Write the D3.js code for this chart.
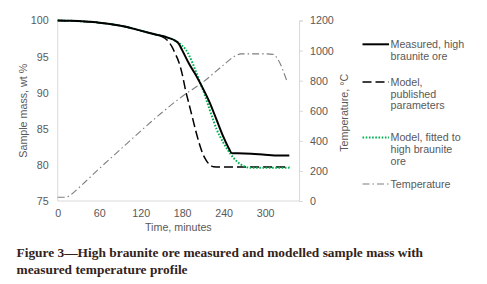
<!DOCTYPE html>
<html>
<head>
<meta charset="utf-8">
<script src="https://cdn.jsdelivr.net/npm/d3@7"></script>
<style>
  body { margin: 0; background: #fff; }
  svg text { font-family: "Liberation Sans", Arial, sans-serif; fill: #595959; }
</style>
</head>
<body>
<div class="figure"></div>
<script>
// time (min) -> sample mass (wt %) for each series, temperature on right axis

var measuredTime = [0, 20, 40, 60, 80, 100, 120, 140, 160, 170, 175, 180, 190, 200, 210, 220, 230, 240, 248, 252, 260, 280, 300, 320, 335]
var measuredMass = [100, 99.95, 99.85, 99.7, 99.45, 99.1, 98.6, 98.1, 97.6, 97.2, 96.8, 95.9, 94.0, 92.4, 90.6, 88.6, 86.2, 83.8, 82.2, 81.6, 81.6, 81.55, 81.4, 81.3, 81.3]

var publishedTime = [0, 20, 40, 60, 80, 100, 120, 140, 150, 160, 165, 170, 175, 180, 185, 190, 195, 200, 205, 210, 215, 220, 225, 240, 335]
var publishedMass = [100, 99.95, 99.85, 99.7, 99.45, 99.1, 98.6, 98.1, 97.8, 97.1, 96.4, 95.4, 94.3, 92.6, 90.3, 88.4, 86.5, 84.6, 82.9, 81.5, 80.6, 80.0, 79.75, 79.7, 79.7]

var fittedTime = [0, 20, 40, 60, 80, 100, 120, 140, 160, 170, 175, 180, 185, 190, 195, 200, 206, 213, 220, 225, 230, 235, 240, 245, 250, 255, 260, 270, 280, 335]
var fittedMass = [100, 99.95, 99.85, 99.7, 99.45, 99.1, 98.6, 98.1, 97.6, 97.2, 96.9, 96.5, 96.0, 95.2, 94.1, 92.9, 91.4, 89.6, 87.6, 86.2, 84.9, 83.9, 83.0, 82.2, 81.5, 80.9, 80.4, 79.8, 79.6, 79.6]

var tempTime = [0, 12, 20, 30, 45, 60, 90, 120, 150, 180, 210, 240, 255, 265, 300, 312, 318, 331]
var tempValue = [25, 25, 45, 85, 150, 215, 340, 465, 585, 695, 790, 905, 960, 978, 978, 975, 945, 804]

var xTicks = [0, 60, 120, 180, 240, 300]
var massTicks = [75, 80, 85, 90, 95, 100]
var tempTicks = [0, 200, 400, 600, 800, 1000, 1200]

var legendLabels = [
    ["Measured, high", "braunite ore"],
    ["Model,", "published", "parameters"],
    ["Model, fitted to", "high braunite", "ore"],
    ["Temperature"]
]

var captionLines = [
    "Figure 3\u2014High braunite ore measured and modelled sample mass with",
    "measured temperature profile"
]

var dim = { w: 487, h: 284 }
var plot = { left: 57.7, right: 299, top: 20.5, bottom: 201 }
var axisColor = "#d9d9d9"
var fontSize = 10.7

var svg = d3.select("div.figure")
    .append("svg")
    .attr("width", dim.w)
    .attr("height", dim.h)

var xScale = d3.scaleLinear().domain([0, 349]).range([plot.left, plot.right])
var yScale = d3.scaleLinear().domain([75, 100]).range([plot.bottom, plot.top])
var tScale = d3.scaleLinear().domain([0, 1200]).range([plot.bottom, plot.top])

// axes
var xAxis = svg.append("g")
    .attr("transform", "translate(0," + plot.bottom + ")")
    .call(d3.axisBottom(xScale).tickValues(xTicks).tickSize(0).tickPadding(8))
var yAxis = svg.append("g")
    .attr("transform", "translate(" + plot.left + ",0)")
    .call(d3.axisLeft(yScale).tickValues(massTicks).tickSize(0).tickPadding(9))
var tAxis = svg.append("g")
    .attr("transform", "translate(" + plot.right + ",0)")
    .call(d3.axisRight(tScale).tickValues(tempTicks).tickFormat(d3.format("d"))
        .tickSize(4).tickPadding(7).tickSizeOuter(4))

;[xAxis, yAxis, tAxis].forEach(function(a) {
    a.selectAll("path").attr("stroke", axisColor).attr("stroke-width", 1)
    a.selectAll("line").attr("stroke", axisColor)
    a.selectAll("text")
        .style("font-size", fontSize + "px")
        .style("font-family", "Liberation Sans, Arial, sans-serif")
        .attr("fill", "#595959")
})
yAxis.select("path").attr("d", "M0," + plot.top + "V" + plot.bottom)
xAxis.select("path").attr("d", "M" + plot.left + ",0H" + plot.right)

// axis titles
svg.append("text")
    .attr("x", (plot.left + plot.right) / 2)
    .attr("y", 230.5)
    .attr("text-anchor", "middle")
    .style("font-size", fontSize + "px")
    .text("Time, minutes")

svg.append("text")
    .attr("transform", "translate(26.5," + ((plot.top + plot.bottom) / 2) + ") rotate(-90)")
    .attr("text-anchor", "middle")
    .style("font-size", fontSize + "px")
    .text("Sample mass, wt %")

svg.append("text")
    .attr("transform", "translate(347.5," + ((plot.top + plot.bottom) / 2 + 2) + ") rotate(-90)")
    .attr("text-anchor", "middle")
    .style("font-size", fontSize + "px")
    .text("Temperature, \u00B0C")

// series
var series = [
    { t: tempTime, v: tempValue, scale: tScale, color: "#7f7f7f", width: 1.1, dash: "7,3,1.5,3" },
    { t: publishedTime, v: publishedMass, scale: yScale, color: "#000000", width: 1.5, dash: "9,4" },
    { t: fittedTime, v: fittedMass, scale: yScale, color: "#00b050", width: 2, dash: "1.6,1.6" },
    { t: measuredTime, v: measuredMass, scale: yScale, color: "#000000", width: 2, dash: null }
]

series.forEach(function(s) {
    var pts = s.t.map(function(d, i) { return [d, s.v[i]] })
    var line = d3.line()
        .x(function(d) { return xScale(d[0]) })
        .y(function(d) { return s.scale(d[1]) })
        .curve(d3.curveMonotoneX)
    svg.append("path")
        .datum(pts)
        .attr("d", line)
        .attr("fill", "none")
        .attr("stroke", s.color)
        .attr("stroke-width", s.width)
        .attr("stroke-dasharray", s.dash)
})

// legend
var legendStyles = [series[3], series[1], series[2], series[0]]
var legendY = [44.3, 82, 137.5, 184]
var lineH = 11.8

legendLabels.forEach(function(lines, i) {
    var s = legendStyles[i]
    svg.append("line")
        .attr("x1", 362.5).attr("x2", 389)
        .attr("y1", legendY[i]).attr("y2", legendY[i])
        .attr("stroke", s.color)
        .attr("stroke-width", s.width)
        .attr("stroke-dasharray", s.dash)
    lines.forEach(function(txt, j) {
        svg.append("text")
            .attr("x", 390.5)
            .attr("y", legendY[i] + 3.8 + j * lineH)
            .style("font-size", fontSize + "px")
            .text(txt)
    })
})

// caption
captionLines.forEach(function(txt, i) {
    svg.append("text")
        .attr("x", 16.5)
        .attr("y", 256.5 + i * 17)
        .style("font-family", "Liberation Serif, Times New Roman, serif")
        .style("font-weight", "bold")
        .style("font-size", "13.4px")
        .style("fill", "#33231a")
        .text(txt)
})
</script>
</body>
</html>
